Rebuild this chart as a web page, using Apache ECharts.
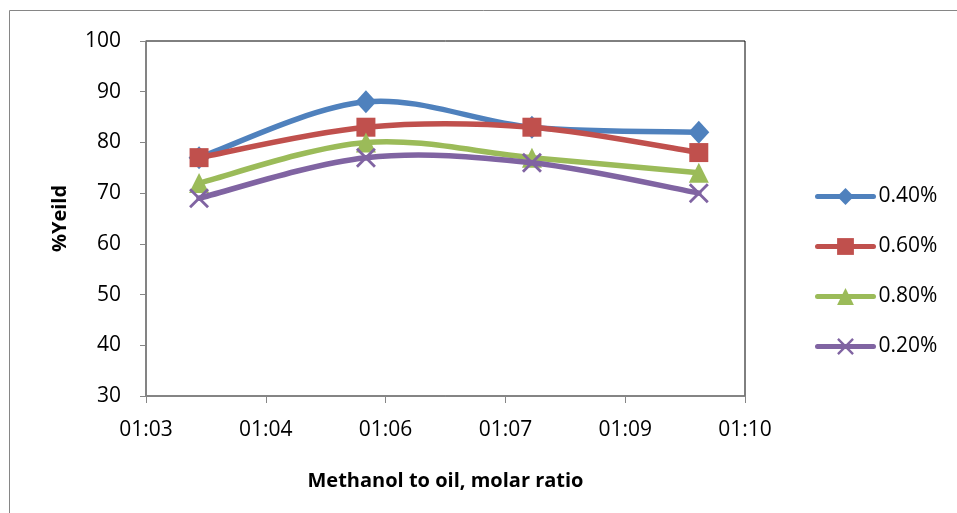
<!DOCTYPE html>
<html><head><meta charset="utf-8">
<script src="https://cdn.jsdelivr.net/npm/echarts@6/dist/echarts.min.js"></script>
<style>html,body{margin:0;padding:0;background:#fff}#c{width:957px;height:513px}</style>
</head><body><div id="c"></div>
<script>
// x positions in minutes (Excel time values shown as hh:mm labels)
const xValues = [63.62, 65.57, 67.51, 69.46];
const xTickLabels = ['01:03', '01:04', '01:06', '01:07', '01:09', '01:10'];
const seriesNames = ['0.40%', '0.60%', '0.80%', '0.20%'];
const s040 = [77, 88, 83, 82];
const s060 = [77, 83, 83, 78];
const s080 = [72, 80, 77, 74];
const s020 = [69, 77, 76, 70];
const allValues = [s040, s060, s080, s020];
const colors = ['#4F81BD', '#C0504D', '#9BBB59', '#8064A2'];
const crossPath = 'path://M0,1L1,0L5,4L9,0L10,1L6,5L10,9L9,10L5,6L1,10L0,9L4,5Z';
const symbols = ['diamond', 'rect', 'triangle', crossPath];
const symbolSizes = [[21, 23], 19, 20, 20];

const chart = echarts.init(document.getElementById('c'));
const FONT = 'Open Sans';

// Excel-like smoothed curve (Catmull-Rom style bezier) through the library's coordinates
function makeCurve(color, vals) {
  const data = xValues.map((x, j) => [x, vals[j]]);
  return {
    data,
    renderItem: function (params, api) {
      if (params.dataIndex !== 0) return;
      const p = data.map(d => api.coord(d));
      const n = p.length;
      const children = [];
      for (let i = 0; i < n - 1; i++) {
        const p0 = p[Math.max(i - 1, 0)], p1 = p[i], p2 = p[i + 1], p3 = p[Math.min(i + 2, n - 1)];
        children.push({
          type: 'bezierCurve',
          shape: {
            x1: p1[0], y1: p1[1], x2: p2[0], y2: p2[1],
            cpx1: p1[0] + (p2[0] - p0[0]) / 6, cpy1: p1[1] + (p2[1] - p0[1]) / 6,
            cpx2: p2[0] - (p3[0] - p1[0]) / 6, cpy2: p2[1] - (p3[1] - p1[1]) / 6
          },
          style: {stroke: color, lineWidth: 5.5, fill: null, lineCap: 'round'}
        });
      }
      return {type: 'group', children};
    }
  };
}

const series = [];
seriesNames.forEach((n, i) => {
  const c = makeCurve(colors[i], allValues[i]);
  series.push({
    name: n + ' curve', type: 'custom', silent: true, z: 2 + 2 * i,
    data: c.data, renderItem: c.renderItem
  });
  series.push({
    name: n, type: 'line', z: 3 + 2 * i,
    data: xValues.map((x, j) => [x, allValues[i][j]]),
    symbol: symbols[i], symbolSize: symbolSizes[i], showSymbol: true,
    lineStyle: {color: colors[i], width: 5, opacity: 0},
    itemStyle: {color: colors[i]}
  });
});

chart.setOption({
  animation: false,
  textStyle: {fontFamily: FONT},
  graphic: [{type: 'rect', shape: {x: 9.5, y: 10.5, width: 1000, height: 600},
    style: {fill: 'none', stroke: '#868686', lineWidth: 1}, z: -1}],
  grid: {left: 146, right: 212, top: 41, bottom: 117, show: true, borderColor: '#000', borderWidth: 1},
  legend: {
    orient: 'vertical', left: 810, top: 181, itemGap: 29, itemWidth: 56, itemHeight: 21,
    textStyle: {fontFamily: FONT, fontSize: 21, color: '#000'},
    lineStyle: {width: 5, opacity: 1, cap: 'round'},
    data: seriesNames
  },
  xAxis: {
    type: 'value', min: 63, max: 70, interval: 1.4,
    name: 'Methanol to oil, molar ratio', nameLocation: 'middle', nameGap: 75,
    nameTextStyle: {fontFamily: FONT, fontSize: 20, fontWeight: 'bold', color: '#000'},
    axisLine: {show: true, lineStyle: {color: '#868686', width: 1.5}},
    axisTick: {show: true, inside: false, length: 7, lineStyle: {color: '#868686'}},
    axisLabel: {fontSize: 21, color: '#000', margin: 24,
      formatter: v => xTickLabels[Math.round((v - 63) / 1.4)]},
    splitLine: {show: false}
  },
  yAxis: {
    type: 'value', min: 30, max: 100, interval: 10,
    name: '%Yeild', nameLocation: 'middle', nameGap: 76, nameRotate: 90,
    nameTextStyle: {fontFamily: FONT, fontSize: 20, fontWeight: 'bold', color: '#000'},
    axisLine: {show: true, lineStyle: {color: '#868686', width: 1.5}},
    axisTick: {show: true, inside: false, length: 6, lineStyle: {color: '#868686'}},
    axisLabel: {fontSize: 21, color: '#000', margin: 25},
    splitLine: {show: false}
  },
  series
});
</script></body></html>
